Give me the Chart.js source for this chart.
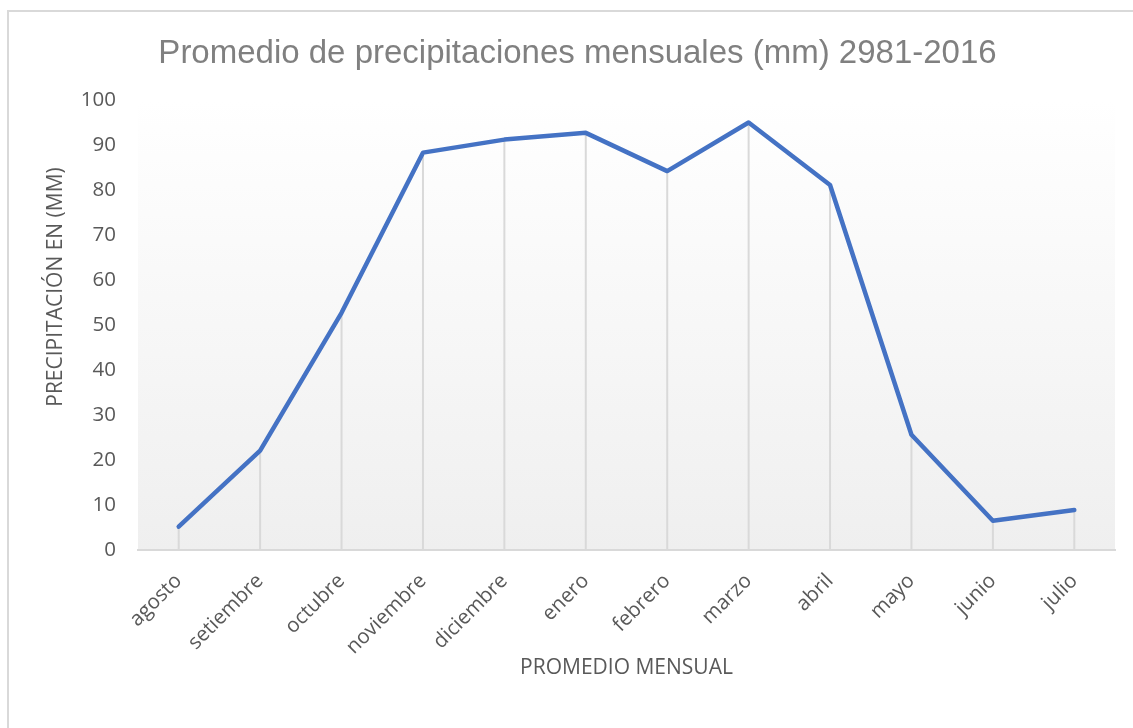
<!DOCTYPE html>
<html>
<head>
<meta charset="utf-8">
<script src="https://cdn.jsdelivr.net/npm/chart.js@4.4.1/dist/chart.umd.min.js"></script>
<style>
  html, body { margin: 0; padding: 0; background: #ffffff; width: 1133px; height: 728px; overflow: hidden; }
  #frame { position: absolute; left: 7px; top: 10px; width: 1200px; height: 800px; border-top: 2px solid #d9d9d9; border-left: 2px solid #d9d9d9; box-sizing: border-box; z-index: 0; }
  #wrap { position: absolute; left: 0; top: 0; width: 1133px; height: 728px; z-index: 1; }
</style>
</head>
<body>
<div id="frame"></div>
<div id="wrap"><canvas id="c" width="1133" height="728"></canvas></div>
<script>
const titleText = 'Promedio de precipitaciones mensuales (mm) 2981-2016';
const yAxisTitle = 'PRECIPITACIÓN EN (MM)';
const xAxisTitle = 'PROMEDIO MENSUAL';
const months = ['agosto', 'setiembre', 'octubre', 'noviembre', 'diciembre', 'enero', 'febrero', 'marzo', 'abril', 'mayo', 'junio', 'julio'];
const precipitation = [5.2, 22.1, 52.7, 88.3, 91.2, 92.7, 84.2, 95.0, 81.1, 25.6, 6.5, 8.9];
const yMin = 0;
const yMax = 100;
const yStep = 10;

const bgPlugin = {
  id: 'plotBg',
  beforeDraw(chart) {
    const { ctx, chartArea: a } = chart;
    const g = ctx.createLinearGradient(0, a.top, 0, a.bottom);
    g.addColorStop(0, '#ffffff');
    g.addColorStop(1, '#efefef');
    ctx.save();
    ctx.fillStyle = g;
    ctx.fillRect(a.left, a.top, a.right - a.left, a.bottom - a.top);
    ctx.restore();
  }
};

const dropLines = {
  id: 'dropLines',
  beforeDatasetsDraw(chart) {
    const { ctx, chartArea: a } = chart;
    const meta = chart.getDatasetMeta(0);
    ctx.save();
    ctx.strokeStyle = '#d9d9d9';
    ctx.lineWidth = 2;
    meta.data.forEach(pt => {
      ctx.beginPath();
      ctx.moveTo(pt.x, pt.y);
      ctx.lineTo(pt.x, a.bottom);
      ctx.stroke();
    });
    ctx.restore();
  }
};

const yTitlePlugin = {
  id: 'yTitle',
  afterDraw(chart) {
    const { ctx } = chart;
    ctx.save();
    ctx.translate(56, 287);
    ctx.rotate(-Math.PI / 2);
    ctx.font = '21px "Open Sans"';
    ctx.fillStyle = '#595959';
    ctx.textAlign = 'center';
    ctx.textBaseline = 'middle';
    ctx.fillText(yAxisTitle, 0, 0);
    ctx.restore();
  }
};

new Chart(document.getElementById('c'), {
  type: 'line',
  data: {
    labels: months,
    datasets: [{
      label: 'Precipitación',
      data: precipitation,
      borderColor: '#4472C4',
      borderWidth: 4.5,
      pointRadius: 0,
      pointHoverRadius: 0,
      tension: 0,
      fill: false,
      borderJoinStyle: 'round',
      borderCapStyle: 'round'
    }]
  },
  options: {
    responsive: false,
    animation: false,
    layout: { padding: { left: 40, right: 18, top: 0, bottom: 0 } },
    plugins: {
      legend: { display: false },
      tooltip: { enabled: false },
      title: {
        display: true,
        text: titleText,
        color: '#808080',
        font: { family: '"Liberation Sans", Arial, sans-serif', size: 33, weight: 'normal' },
        padding: { top: 34, bottom: 26.4 }
      }
    },
    scales: {
      x: {
        offset: true,
        grid: { display: false, drawTicks: false },
        border: { display: true, color: '#d9d9d9', width: 2 },
        ticks: {
          color: '#595959',
          font: { family: '"Open Sans"', size: 20.5 },
          minRotation: 45,
          maxRotation: 45,
          padding: 19,
          autoSkip: false
        },
        title: {
          display: true,
          text: xAxisTitle,
          color: '#595959',
          font: { family: '"Open Sans"', size: 21 },
          padding: { top: 2, bottom: 47 }
        },
        afterFit(scale) { scale.height = 178; }
      },
      y: {
        min: yMin,
        max: yMax,
        grid: { display: false, drawTicks: false },
        border: { display: false },
        ticks: {
          stepSize: yStep,
          color: '#595959',
          font: { family: '"Open Sans"', size: 20.5 },
          padding: 22
        },
        afterFit(scale) { scale.width = 98; }
      }
    }
  },
  plugins: [bgPlugin, dropLines, yTitlePlugin]
});
</script>
</body>
</html>
